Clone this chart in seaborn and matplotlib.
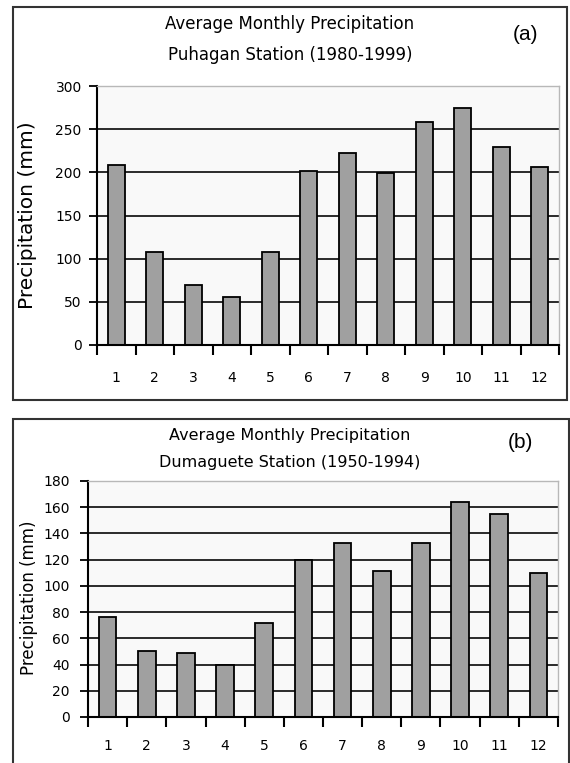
"""Average monthly precipitation, Puhagan and Dumaguete stations."""
import matplotlib
matplotlib.use("Agg")
import matplotlib.pyplot as plt
from matplotlib.patches import Rectangle
from matplotlib.ticker import FixedLocator
import numpy as np
import pandas as pd
import seaborn as sns

# Daten
months = list(range(1, 13))
puhagan_mm = [208, 108, 69, 56, 108, 202, 222, 199, 258, 274, 229, 206]
dumaguete_mm = [76, 50, 49, 40, 72, 120, 133, 111, 133, 164, 155, 110]
puhagan_ticks = list(range(0, 301, 50))
dumaguete_ticks = list(range(0, 181, 20))

W, H = 570, 763


def px_box(left, top, right, bottom):
    """Pixel box (top-left origin) -> figure fraction rect."""
    return [left / W, 1 - bottom / H, (right - left) / W, (bottom - top) / H]


def fx(x):
    return x / W


def fy(y):
    return 1 - y / H


def draw_panel(fig, rect, values, yticks, tick_pad, x_pad, tick_size):
    ax = fig.add_axes(rect)
    df = pd.DataFrame({"month": months, "mm": values})
    sns.barplot(data=df, x="month", y="mm", color="#a0a0a0", saturation=1,
                edgecolor="black", linewidth=1.3, width=0.45, ax=ax)
    ax.set_facecolor("#f9f9f9")
    ax.set_xlim(-0.5, len(months) - 0.5)
    ax.set_ylim(yticks[0], yticks[-1])
    ax.set_yticks(yticks)
    ax.set_yticklabels([str(t) for t in yticks], fontsize=tick_size, color="black")
    ax.set_xticklabels([str(m) for m in months], fontsize=tick_size, color="black")
    ax.xaxis.set_minor_locator(FixedLocator(np.arange(-0.5, len(months), 1.0)))
    ax.tick_params(axis="x", which="major", bottom=True, length=0, pad=x_pad)
    ax.tick_params(axis="x", which="minor", bottom=True, length=7, width=1.5,
                   color="black", direction="out")
    ax.tick_params(axis="y", which="major", left=True, length=6, width=1.3,
                   color="black", pad=tick_pad, direction="out")
    ax.yaxis.grid(True, color="#1a1a1a", linewidth=1.3)
    ax.set_axisbelow(True)
    ax.set_xlabel("")
    ax.set_ylabel("")
    for side in ("left", "bottom"):
        ax.spines[side].set_color("black")
        ax.spines[side].set_linewidth(1.5)
    for side in ("top", "right"):
        ax.spines[side].set_color("#b8b8b8")
        ax.spines[side].set_linewidth(1.0)
    return ax


sns.set_style("white")
plt.rcParams["font.family"] = ["DejaVu Sans"]
plt.rcParams["text.color"] = "black"

fig = plt.figure(figsize=(W / 100, H / 100), dpi=100)

# Rahmen der beiden Diagramme
fig.patches.append(Rectangle((fx(13), fy(400)), fx(567) - fx(13), fy(7) - fy(400),
                             transform=fig.transFigure, fill=False,
                             edgecolor="#333333", linewidth=1.5))
fig.patches.append(Rectangle((fx(13), fy(790)), fx(569) - fx(13), fy(419) - fy(790),
                             transform=fig.transFigure, fill=False,
                             edgecolor="#333333", linewidth=1.5))

# (a) Puhagan
draw_panel(fig, px_box(97, 86, 559, 345), puhagan_mm, puhagan_ticks,
           tick_pad=5, x_pad=19, tick_size=10)
fig.text(fx(290), fy(24), "Average Monthly Precipitation", ha="center", va="center", fontsize=12)
fig.text(fx(290), fy(55), "Puhagan Station (1980-1999)", ha="center", va="center", fontsize=12)
fig.text(fx(28), fy(215), "Precipitation (mm)", rotation=90, ha="center", va="center", fontsize=14.5)
fig.text(fx(525), fy(34), "(a)", ha="center", va="center", fontsize=15,
         family=["Liberation Sans", "DejaVu Sans"])

# (b) Dumaguete
draw_panel(fig, px_box(88, 481, 558, 717), dumaguete_mm, dumaguete_ticks,
           tick_pad=7, x_pad=16, tick_size=10)
fig.text(fx(290), fy(435), "Average Monthly Precipitation", ha="center", va="center", fontsize=11.5)
fig.text(fx(290), fy(462), "Dumaguete Station (1950-1994)", ha="center", va="center", fontsize=11.5)
fig.text(fx(29), fy(598), "Precipitation (mm)", rotation=90, ha="center", va="center", fontsize=12)
fig.text(fx(520), fy(443), "(b)", ha="center", va="center", fontsize=15,
         family=["Liberation Sans", "DejaVu Sans"])

fig.savefig("out.png", dpi=100)
